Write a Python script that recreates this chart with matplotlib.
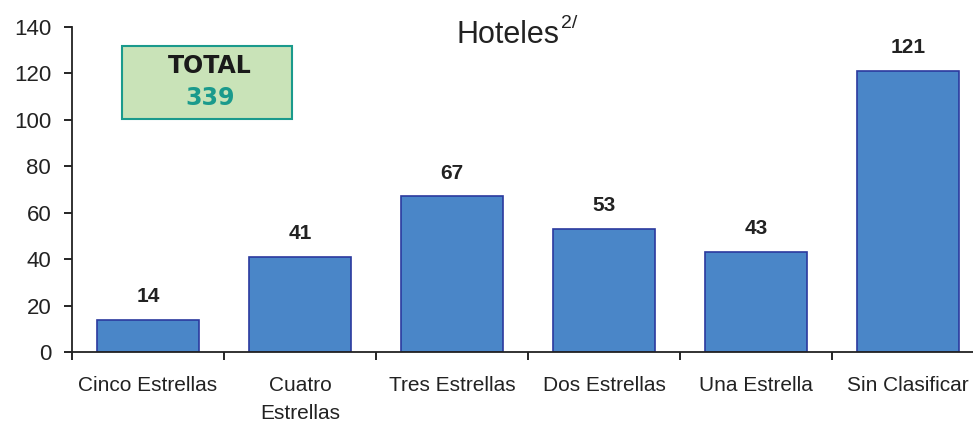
import matplotlib.pyplot as plt
from matplotlib.patches import Rectangle
import numpy as np

plt.rcParams['font.family'] = ['Liberation Sans', 'DejaVu Sans']

# datos
categorias = ['Cinco Estrellas', 'Cuatro\nEstrellas', 'Tres Estrellas',
              'Dos Estrellas', 'Una Estrella', 'Sin Clasificar']
hoteles = [14, 41, 67, 53, 43, 121]
total = 339

W, H = 973, 424
fig = plt.figure(figsize=(W / 100, H / 100), dpi=100)
ax = fig.add_axes([72 / W, (H - 352) / H, 912 / W, 325 / H])

x = np.arange(len(categorias))
ax.bar(x, hoteles, width=0.67, color='#4A86C8', edgecolor='#2B3A9E', linewidth=1.2)

for xi, v in zip(x, hoteles):
    ax.annotate(str(v), (xi, v), xytext=(0, 10), textcoords='offset points',
                ha='center', va='bottom', fontsize=15, fontweight='bold', color='#222222')

ax.set_xlim(-0.5, len(categorias) - 0.5)
ax.set_ylim(0, 140)
ax.set_yticks(range(0, 141, 20))
ax.tick_params(axis='y', labelsize=16, length=6, width=1.2, direction='out', pad=9,
               labelcolor='#222222')

ax.set_xticks(x)
ax.set_xticklabels(categorias, fontsize=15, color='#222222', linespacing=1.6)
ax.tick_params(axis='x', length=0, pad=17)
ax.set_xticks(np.arange(-0.5, len(categorias), 1), minor=True)
ax.tick_params(axis='x', which='minor', length=6, width=1.2, direction='out')

for s in ['top', 'right']:
    ax.spines[s].set_visible(False)
for s in ['left', 'bottom']:
    ax.spines[s].set_linewidth(1.3)
    ax.spines[s].set_color('#222222')

# subtitulo
fig.text(508 / W, 1 - 35 / H, 'Hoteles', ha='center', va='center', fontsize=22, color='#222222')
fig.text(561 / W, 1 - 24 / H, '2/', ha='left', va='center', fontsize=14, color='#222222')

# recuadro total
fig.patches.append(Rectangle((122 / W, (H - 119) / H), 170 / W, 73 / H,
                             transform=fig.transFigure, facecolor='#C9E3B8',
                             edgecolor='#1A9A8C', linewidth=1.5))
fig.text(210 / W, 1 - 66 / H, 'TOTAL', ha='center', va='center', fontsize=17,
         fontweight='bold', family='DejaVu Sans', color='#1a1a1a')
fig.text(210 / W, 1 - 98 / H, str(total), ha='center', va='center', fontsize=17,
         fontweight='bold', family='DejaVu Sans', color='#1A9A8C')

fig.savefig('out.png', dpi=100)
